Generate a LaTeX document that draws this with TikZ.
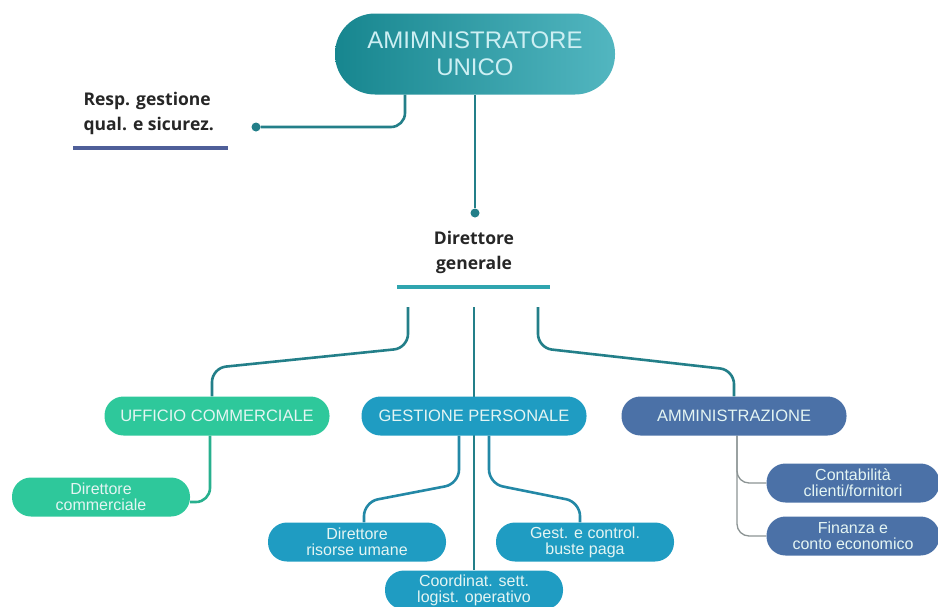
\documentclass[tikz,border=0pt]{standalone}
\usepackage{fontspec}
\setmainfont{Liberation Sans}
\newfontfamily\labfont{Open Sans}
\usetikzlibrary{backgrounds}

\definecolor{auleft}{HTML}{17868F}
\definecolor{auright}{HTML}{52B6C0}
\definecolor{autext}{HTML}{CDEFF3}
\definecolor{boxtext}{HTML}{E4F5F3}
\definecolor{ucgreen}{HTML}{2EC89B}
\definecolor{gpblue}{HTML}{1F9CC2}
\definecolor{amblue}{HTML}{4B71A7}
\definecolor{linecol}{HTML}{237F89}
\definecolor{ucline}{HTML}{28B08E}
\definecolor{gpline}{HTML}{2388A6}
\definecolor{amline}{HTML}{8C9494}
\definecolor{respbar}{HTML}{4F5F99}
\definecolor{dgbar}{HTML}{2FA5AF}

\begin{document}
\begin{tikzpicture}[x=1pt,y=-1pt,
        box/.style={rectangle,rounded corners=19pt,minimum height=39pt,inner sep=0pt,
                align=center,text=boxtext,font=\fontsize{16.5}{16}\selectfont},
        head/.style={box,minimum width=225pt},
        sub/.style={box,minimum width=178pt,font=\fontsize{16}{16}\selectfont},
        conn/.style={line width=2.6pt,color=linecol,rounded corners=14pt},
        dot/.style={circle,fill=linecol,inner sep=0pt,minimum size=9pt},
        lab/.style={font=\labfont\bfseries\fontsize{17.5}{25}\selectfont,text=black!85,align=center}]
        \useasboundingbox (0,0) rectangle (938,606);

        \node (au) at (475,54) [rectangle,rounded corners=40pt,minimum width=280pt,
            minimum height=81pt,left color=auleft,right color=auright,text=autext,
            font=\fontsize{24}{27}\selectfont,align=center] {AMIMNISTRATORE\\UNICO};

        \node (resp) at (80,113) [lab,anchor=west,align=left] {Resp. gestione\\qual. e sicurez.};
        \node (respdot) at (256,127) [dot] {};
        \draw[line width=3.5pt,respbar] (73,148) -- (228,148);

        \node (dgdot) at (475,213) [dot] {};
        \node (dg) at (474,252) [lab] {Direttore\\generale};
        \draw[line width=3.5pt,dgbar] (397,287) -- (550,287);

        \coordinate (dgl) at (408,307);
        \coordinate (dgc) at (474,307);
        \coordinate (dgr) at (538,307);

        % uffici
        \node (uc) at (217,416) [head,fill=ucgreen] {UFFICIO COMMERCIALE};
        \node (gp) at (474,416) [head,fill=gpblue] {GESTIONE PERSONALE};
        \node (am) at (734,416) [head,fill=amblue] {AMMINISTRAZIONE};

        \node (dc) at (101,497) [sub,fill=ucgreen] {Direttore\\commerciale};
        \node (dru) at (357,542) [sub,fill=gpblue] {Direttore\\risorse umane};
        \node (gcb) at (585,542) [sub,fill=gpblue] {Gest. e control.\\buste paga};
        \node (cso) at (474,590) [sub,fill=gpblue] {Coordinat. sett.\\logist. operativo};
        \node (cf) at (853,483) [sub,minimum width=173pt,fill=amblue] {Contabilità\\clienti/fornitori};
        \node (fce) at (853,536) [sub,minimum width=173pt,fill=amblue] {Finanza e\\conto economico};

        \begin{scope}[on background layer]
            \draw[conn] ([xshift=-70pt]au.south) |- (respdot);
            \draw[conn] (au) -- (dgdot);
            \draw[conn] (dgl) -- (408,348) -- (212,368) -- ([xshift=-5pt]uc.north);
            \draw[conn,line width=1.5pt] (dgc) -- (cso.north);
            \draw[conn] (dgr) -- (538,348) -- (734,370) -- (am.north);
            \draw[conn,ucline] ([xshift=-7pt]uc.south) |- ([yshift=-5pt]dc.east);
            \draw[conn,gpline] ([xshift=-15pt]gp.south) -- ++(0,48) -- (364,502) -- ([xshift=7pt]dru.north);
            \draw[conn,gpline] ([xshift=15pt]gp.south) -- ++(0,48) -- (580,502) -- ([xshift=-5pt]gcb.north);
            \draw[conn,amline,line width=1.3pt,rounded corners=12pt] ([xshift=3pt]am.south) |- (cf.west);
            \draw[conn,amline,line width=1.3pt,rounded corners=12pt] ([xshift=3pt]am.south) |- (fce.west);
        \end{scope}
    \end{tikzpicture}
\end{document}
